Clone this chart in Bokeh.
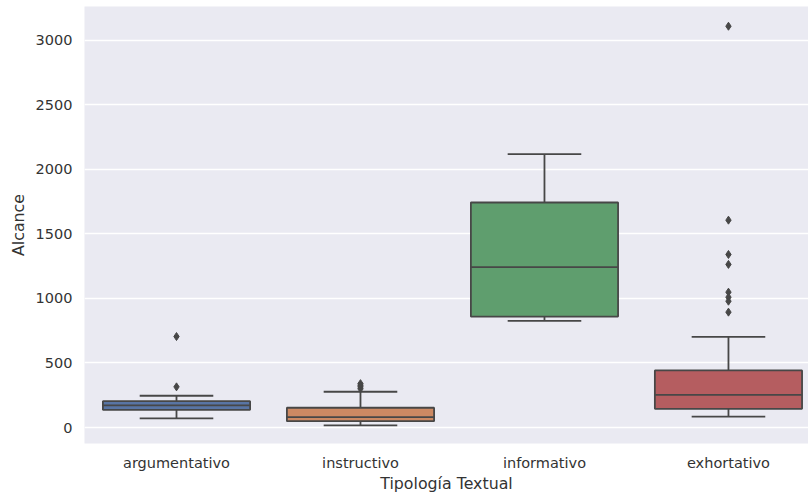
from bokeh.plotting import figure
from bokeh.models import Range1d, FixedTicker, ColumnDataSource
from bokeh.embed import file_html
from bokeh.resources import INLINE

categories = ["argumentativo", "instructivo", "informativo", "exhortativo"]
colors = ["#5975a4", "#cc8963", "#5f9e6e", "#b55d60"]
q1 = [137, 49, 860, 145]
median = [171, 80, 1243, 253]
q3 = [204, 153, 1744, 442]
whisker_lo = [70, 16, 827, 85]
whisker_hi = [246, 277, 2119, 703]
outliers = [
    [705, 315],
    [300, 315, 328, 340],
    [],
    [3110, 1607, 1341, 1264, 1049, 1010, 979, 894],
]
y_ticks = [0, 500, 1000, 1500, 2000, 2500, 3000]

line_col = "#474747"
pos = list(range(len(categories)))

p = figure(width=808, height=499, output_backend="svg", toolbar_location=None,
           x_range=Range1d(-0.5, 3.435), y_range=Range1d(-124, 3263),
           min_border_left=84, min_border_right=0, min_border_top=6, min_border_bottom=56)
p.background_fill_color = "#eaeaf2"
p.border_fill_color = "white"
p.outline_line_color = None

src = ColumnDataSource(dict(x=pos, q1=q1, q3=q3, med=median, lo=whisker_lo, hi=whisker_hi,
                            color=colors,
                            xl=[i - 0.4 for i in pos], xr=[i + 0.4 for i in pos],
                            cl=[i - 0.2 for i in pos], cr=[i + 0.2 for i in pos]))

# whiskers
p.segment(x0="x", y0="q3", x1="x", y1="hi", source=src, line_color=line_col, line_width=1.8)
p.segment(x0="x", y0="q1", x1="x", y1="lo", source=src, line_color=line_col, line_width=1.8)
# caps
p.segment(x0="cl", y0="hi", x1="cr", y1="hi", source=src, line_color=line_col, line_width=1.8)
p.segment(x0="cl", y0="lo", x1="cr", y1="lo", source=src, line_color=line_col, line_width=1.8)
# boxes
p.vbar(x="x", width=0.8, bottom="q1", top="q3", source=src, fill_color="color",
       line_color=line_col, line_width=1.8)
# medians
p.segment(x0="xl", y0="med", x1="xr", y1="med", source=src, line_color=line_col, line_width=1.8)

ox, oy = [], []
for i, vals in enumerate(outliers):
    for v in vals:
        ox.append(i)
        oy.append(v)
p.scatter(ox, oy, marker="diamond", size=8, fill_color=line_col, line_color=line_col)

p.xgrid.grid_line_color = None
p.ygrid.grid_line_color = "white"
p.ygrid.grid_line_width = 1.5

p.xaxis.ticker = FixedTicker(ticks=pos)
p.xaxis.major_label_overrides = {i: c for i, c in enumerate(categories)}
p.yaxis.ticker = FixedTicker(ticks=y_ticks)

for ax in (p.xaxis[0], p.yaxis[0]):
    ax.axis_line_color = None
    ax.major_tick_line_color = None
    ax.minor_tick_line_color = None
    ax.major_tick_out = 0
    ax.major_tick_in = 0
    ax.major_label_text_font = "DejaVu Sans"
    ax.major_label_text_font_size = "14.5px"
    ax.major_label_text_color = "#333333"
    ax.axis_label_text_font = "DejaVu Sans"
    ax.axis_label_text_font_size = "15.8px"
    ax.axis_label_text_font_style = "normal"
    ax.axis_label_text_color = "#333333"
    ax.major_label_standoff = 12

p.xaxis.major_label_standoff = 11
p.xaxis.axis_label = "Tipología Textual"
p.yaxis.axis_label = "Alcance"
p.xaxis.axis_label_standoff = 0
p.yaxis.axis_label_standoff = 5

open("out.html", "w").write(file_html(p, INLINE))
